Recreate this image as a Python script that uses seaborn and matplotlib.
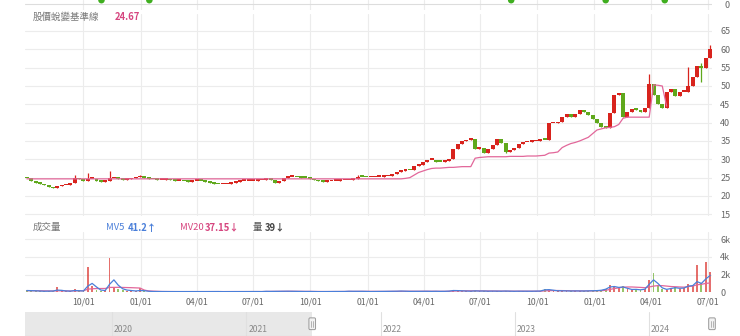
import numpy as np
import pandas as pd
import matplotlib
matplotlib.use("Agg")
import matplotlib.pyplot as plt
import matplotlib.dates as mdates
from matplotlib.patches import FancyBboxPatch
from matplotlib.transforms import blended_transform_factory
import seaborn as sns

sns.set_theme(style="white")
plt.rcParams['font.family'] = ['Noto Sans CJK TC', 'DejaVu Sans']

# ---------------- data (weekly) ----------------
first_week = "2021-07-02"
first_open = 24.9
close = [
    24.8, 24.0, 23.6, 23.3, 22.9, 22.5, 22.1, 22.6, 22.9, 23.1,
    23.6, 24.8, 24.5, 24.2, 24.6, 24.6, 24.1, 23.9, 24.2, 24.8,
    24.9, 24.6, 24.4, 24.5, 24.8, 25.1, 25.4, 24.9, 24.6, 24.5,
    24.4, 24.4, 24.5, 24.3, 24.2, 24.2, 24.0, 23.9, 24.1, 24.2,
    24.1, 23.9, 23.6, 23.4, 23.2, 23.2, 23.4, 23.5, 23.8, 24.1,
    24.2, 24.2, 24.2, 24.3, 24.4, 24.5, 24.4, 23.6, 24.2, 24.9,
    25.3, 25.3, 25.1, 25.0, 24.9, 24.6, 24.3, 24.0, 23.9, 24.0,
    24.2, 24.2, 24.3, 24.3, 24.4, 24.7, 25.3, 25.2, 25.1, 25.1,
    25.2, 25.3, 25.4, 25.5, 26.0, 26.6, 26.8, 27.1, 27.0, 28.2,
    28.4, 29.2, 29.8, 29.8, 29.4, 29.3, 29.6, 30.2, 32.8, 34.2,
    34.9, 35.3, 35.6, 32.8, 33.2, 31.7, 32.8, 33.8, 35.6, 34.4,
    32.1, 32.5, 33.2, 34.2, 34.6, 34.8, 34.9, 35.1, 35.4, 35.3,
    39.8, 39.8, 40.1, 41.6, 42.4, 41.6, 42.3, 43.4, 42.8, 42.0,
    41.0, 40.0, 38.9, 38.6, 42.5, 47.5, 48.0, 41.6, 43.0, 43.8,
    43.5, 42.8, 44.0, 50.5, 47.5, 45.0, 44.0, 48.4, 49.3, 47.2,
    48.4, 48.4, 50.0, 52.5, 55.5, 54.8, 57.5, 60.0,
]
wick_hi_idx = [11, 14, 19, 26, 76, 143, 152, 155, 157]
wick_hi_val = [25.7, 26.3, 26.9, 25.8, 25.7, 53.2, 55.3, 56.4, 61.1]
wick_lo_idx = [155, 110]
wick_lo_val = [51.2, 31.6]

baseline = ([24.67] * 87 + [
    24.8, 25.0, 25.7, 26.4, 26.8, 27.2, 27.5, 27.6, 27.6, 27.7, 27.8, 27.8, 27.9, 28.0, 28.0, 28.0,
    30.3, 30.5, 30.6, 30.7, 30.7, 30.7, 30.7, 30.7, 30.8, 30.8, 30.8, 30.8, 30.9, 30.9, 30.9, 31.0, 31.1,
    31.7, 31.8, 32.0, 33.2, 33.8, 34.3, 34.6, 35.0, 35.5, 36.0, 37.0, 38.0, 38.3, 38.6, 38.7, 38.9, 39.5,
    41.2, 41.5, 41.5, 41.5, 41.5, 41.5, 41.5, 50.3, 50.2, 50.0, 44.5,
] + [np.nan] * 10)

volume = [
    250, 180, 150, 120, 100, 150, 120, 550, 150, 100,
    150, 400, 150, 150, 2850, 700, 300, 150, 300, 3900,
    600, 350, 250, 200, 150, 120, 500, 100, 90, 80,
    80, 90, 70, 80, 90, 80, 70, 80, 90, 80,
    70, 80, 90, 100, 80, 70, 80, 90, 80, 70,
    80, 90, 100, 80, 70, 150, 90, 120, 100, 150,
    120, 100, 90, 80, 90, 100, 80, 70, 80, 90,
    100, 90, 80, 90, 150, 100, 120, 110, 90, 80,
    90, 100, 110, 120, 100, 130, 150, 120, 100, 110,
    120, 130, 110, 100, 120, 100, 110, 150, 250, 200,
    150, 130, 120, 180, 130, 150, 120, 140, 130, 120,
    150, 120, 110, 130, 120, 110, 120, 130, 150, 350,
    300, 200, 150, 180, 150, 140, 160, 150, 140, 170,
    180, 200, 250, 400, 800, 600, 500, 700, 400, 300,
    350, 250, 400, 1400, 2200, 800, 400, 300, 500, 600,
    400, 500, 900, 700, 3100, 1000, 3400, 2300,
]
mv5 = [
    200, 190, 170, 140, 120, 130, 140, 250, 220, 150,
    130, 200, 180, 150, 700, 1000, 600, 250, 200, 900,
    1400, 800, 400, 250, 200, 150, 200, 180, 120, 90,
    85, 85, 80, 80, 85, 80, 75, 80, 85, 80,
    75, 80, 85, 90, 85, 75, 80, 85, 80, 75,
    80, 85, 95, 85, 80, 110, 100, 105, 100, 120,
    120, 110, 95, 85, 90, 95, 85, 75, 80, 85,
    95, 90, 85, 90, 120, 110, 115, 110, 95, 85,
    90, 100, 105, 115, 105, 120, 140, 125, 105, 110,
    115, 125, 115, 105, 115, 105, 110, 130, 200, 190,
    160, 140, 125, 160, 140, 145, 125, 135, 130, 125,
    140, 125, 115, 125, 120, 115, 120, 125, 140, 280,
    300, 230, 170, 170, 155, 145, 155, 150, 145, 160,
    175, 190, 230, 350, 600, 650, 550, 600, 450, 320,
    330, 280, 350, 900, 1400, 1000, 500, 330, 420, 520,
    450, 480, 700, 750, 1200, 1000, 1500, 1900,
]
mv20 = [
    180, 180, 175, 170, 160, 150, 145, 170, 170, 160,
    150, 170, 170, 165, 350, 400, 420, 420, 430, 550,
    560, 560, 550, 540, 520, 500, 480, 250, 150, 130,
    100, 90, 85, 85, 85, 80, 80, 80, 80, 80,
    80, 80, 80, 85, 85, 80, 80, 80, 80, 80,
    80, 85, 90, 90, 85, 95, 100, 100, 105, 110,
    115, 115, 110, 105, 100, 95, 90, 85, 85, 85,
    90, 90, 90, 90, 100, 105, 110, 110, 110, 105,
    100, 100, 100, 105, 110, 115, 120, 125, 120, 115,
    115, 120, 120, 115, 115, 115, 110, 120, 145, 160,
    170, 170, 165, 160, 150, 145, 140, 135, 135, 130,
    130, 130, 130, 125, 125, 120, 120, 120, 125, 160,
    190, 200, 200, 195, 185, 170, 160, 155, 155, 155,
    160, 165, 180, 230, 330, 420, 500, 580, 600, 600,
    580, 550, 520, 600, 700, 750, 750, 700, 650, 620,
    600, 580, 650, 700, 850, 900, 1000, 1050,
]
signal_dates = ["2021-10-30", "2022-01-15", "2023-08-20", "2024-01-19", "2024-04-23"]
tick_dates = ["2021-10-01", "2022-01-01", "2022-04-01", "2022-07-01", "2022-10-01",
              "2023-01-01", "2023-04-01", "2023-07-01", "2023-10-01", "2024-01-01",
              "2024-04-01", "2024-07-01"]

price_ticks = [15, 20, 25, 30, 35, 40, 45, 50, 55, 60, 65]
vol_ticks = [0, 2000, 4000, 6000]
vol_tick_labels = ["0", "2k", "4k", "6k"]
nav_years = ["2020", "2021", "2022", "2023", "2024"]

legend_base_label = "股價蛻變基準線"
legend_base_value = "24.67"
vol_title = "成交量"
mv5_label, mv5_value = "MV5", "41.2↑"
mv20_label, mv20_value = "MV20", "37.15↓"
vol_label, vol_value = "量", "39↓"

view_start, view_end = "2021-06-29", "2024-07-08"
nav_start, nav_end = "2019-05-10", "2024-06-20"

# ---------------- styling ----------------
UP = "#d8231d"
DOWN = "#5fa81c"
PINK = "#e2679a"
BLUE = "#4a7fd9"
GRID = "#ececec"
TXT = "#666666"

n = len(close)
dates = pd.date_range(first_week, periods=n, freq="7D")
c = np.array(close)
o = np.array([first_open] + close[:-1])
hi = np.maximum(o, c)
lo = np.minimum(o, c)
for i, v in zip(wick_hi_idx, wick_hi_val):
    hi[i] = v
for i, v in zip(wick_lo_idx, wick_lo_val):
    lo[i] = v
up = c >= o
cols = np.where(up, UP, DOWN)
ticks = pd.to_datetime(tick_dates)

df = pd.DataFrame({"date": dates, "baseline": baseline, "vol": volume,
                   "mv5": mv5, "mv20": mv20})

W, H = 740, 336
fig = plt.figure(figsize=(W / 100, H / 100), dpi=100)


def axes_px(x0, y0, x1, y1):
    return fig.add_axes([x0 / W, 1 - y1 / H, (x1 - x0) / W, (y1 - y0) / H])


x0, x1 = 25, 712
xlim = (pd.Timestamp(view_start), pd.Timestamp(view_end))

# top strip
ax_top = axes_px(x0, 0, x1, 10)
ax_top.set_xlim(*xlim)
ax_top.set_ylim(-1.5, 1)
ax_top.axhline(0, color="#dddddd", lw=0.8)
sns.scatterplot(x=pd.to_datetime(signal_dates), y=[0.95] * len(signal_dates),
                ax=ax_top, color="#3fae1f", s=22, edgecolor="none")
ax_top.set_xticks(ticks)
ax_top.grid(axis="x", color=GRID, lw=0.8)
ax_top.set_xticklabels([])
ax_top.set_yticks([0])
ax_top.yaxis.tick_right()
ax_top.tick_params(axis="y", length=0, labelsize=6.5, labelcolor=TXT, pad=9)
ax_top.tick_params(axis="x", length=0)
for s in ax_top.spines.values():
    s.set_visible(False)

# price panel
ax = axes_px(x0, 14, x1, 216)
ax.set_xlim(*xlim)
ylo = 15 - 1.7 / 3.666
yhi = 65 + 17 / 3.666
ax.set_ylim(ylo, yhi)
ax.vlines(dates, lo, hi, colors=cols, lw=0.9, zorder=3)
ax.bar(dates, np.maximum(np.abs(c - o), 0.45), bottom=np.minimum(o, c),
       width=6.4, color=cols, linewidth=0, zorder=4)
sns.lineplot(data=df, x="date", y="baseline", ax=ax, color=PINK, lw=0.9, zorder=5)
ax.set_xlabel("")
ax.set_ylabel("")
ax.set_yticks(price_ticks)
ax.yaxis.tick_right()
ax.set_xticks(ticks)
ax.set_xticklabels([])
ax.grid(True, color=GRID, lw=0.8)
ax.tick_params(axis="y", length=0, labelsize=6.5, labelcolor=TXT, pad=6)
ax.tick_params(axis="x", length=0)
for s in ax.spines.values():
    s.set_visible(False)

fig.text(33 / W, 1 - 16.5 / H, legend_base_label, color="#777777", fontsize=6.8, va="center")
fig.text(115 / W, 1 - 16.5 / H, legend_base_value, color="#d6457f", fontsize=6.8,
         fontweight="bold", va="center")

# volume panel
axv = axes_px(x0, 232, x1, 292.3)
axv.set_xlim(*xlim)
axv.set_ylim(0, 60.3 / 8.88 * 1000)
axv.bar(dates, volume, width=3.0, color=cols, alpha=0.65, linewidth=0, zorder=3)
sns.lineplot(data=df, x="date", y="mv20", ax=axv, color=PINK, lw=0.9, zorder=4)
sns.lineplot(data=df, x="date", y="mv5", ax=axv, color=BLUE, lw=0.9, zorder=5)
axv.set_xlabel("")
axv.set_ylabel("")
axv.set_yticks(vol_ticks)
axv.set_yticklabels(vol_tick_labels)
axv.yaxis.tick_right()
axv.set_xticks(ticks)
axv.xaxis.set_major_formatter(mdates.DateFormatter("%m/%d"))
axv.grid(True, color=GRID, lw=0.8)
axv.tick_params(axis="y", length=0, labelsize=6.5, labelcolor=TXT, pad=6)
axv.tick_params(axis="x", length=0, labelsize=6.3, labelcolor=TXT, pad=4)
for s in axv.spines.values():
    s.set_visible(False)

ty = 1 - 227.5 / H
fig.text(33 / W, ty, vol_title, color="#777777", fontsize=6.8, va="center")
fig.text(106 / W, ty, mv5_label, color=BLUE, fontsize=6.8, va="center")
fig.text(128 / W, ty, mv5_value, color=BLUE, fontsize=6.8, fontweight="bold", va="center")
fig.text(180 / W, ty, mv20_label, color="#d6457f", fontsize=6.8, va="center")
fig.text(205 / W, ty, mv20_value, color="#d6457f", fontsize=6.8, fontweight="bold", va="center")
fig.text(253 / W, ty, vol_label, color="#555555", fontsize=6.8, va="center")
fig.text(265 / W, ty, vol_value, color="#444444", fontsize=6.8, fontweight="bold", va="center")

# navigator
axn = axes_px(x0, 312, x1, 335.5)
nlim = (pd.Timestamp(nav_start), pd.Timestamp(nav_end))
axn.set_xlim(*nlim)
axn.set_ylim(0, 1)
axn.axvspan(nlim[0], pd.Timestamp(view_start), color="#e8e8e8", lw=0, zorder=1)
year_dates = pd.to_datetime([y + "-01-01" for y in nav_years])
for yd, lab in zip(year_dates, nav_years):
    axn.axvline(yd, color="#e0e0e0", lw=0.8, zorder=2)
    axn.text(yd + pd.Timedelta(days=5), 0.25, lab, fontsize=6.2, color="#888888",
             va="center", ha="left", zorder=3)
tr = blended_transform_factory(axn.transData, axn.transAxes)
for d in [pd.Timestamp(view_start), nlim[1]]:
    dn = mdates.date2num(d)
    box = FancyBboxPatch((dn - 9, 0.25), 18, 0.5,
                         boxstyle="round,pad=0,rounding_size=3", mutation_aspect=0.02,
                         transform=tr, facecolor="#f2f2f2", edgecolor="#999999",
                         lw=0.7, zorder=5, clip_on=False)
    axn.add_patch(box)
    for dx in (-2.5, 2.5):
        axn.axvline(dn + dx, ymin=0.38, ymax=0.62, color="#999999", lw=0.5,
                    zorder=6, clip_on=False)
axn.set_xticks([])
axn.set_yticks([])
for k, s in axn.spines.items():
    s.set_visible(k == "bottom")
    s.set_color("#cccccc")
    s.set_linewidth(0.8)

fig.savefig("out.png", dpi=100)
